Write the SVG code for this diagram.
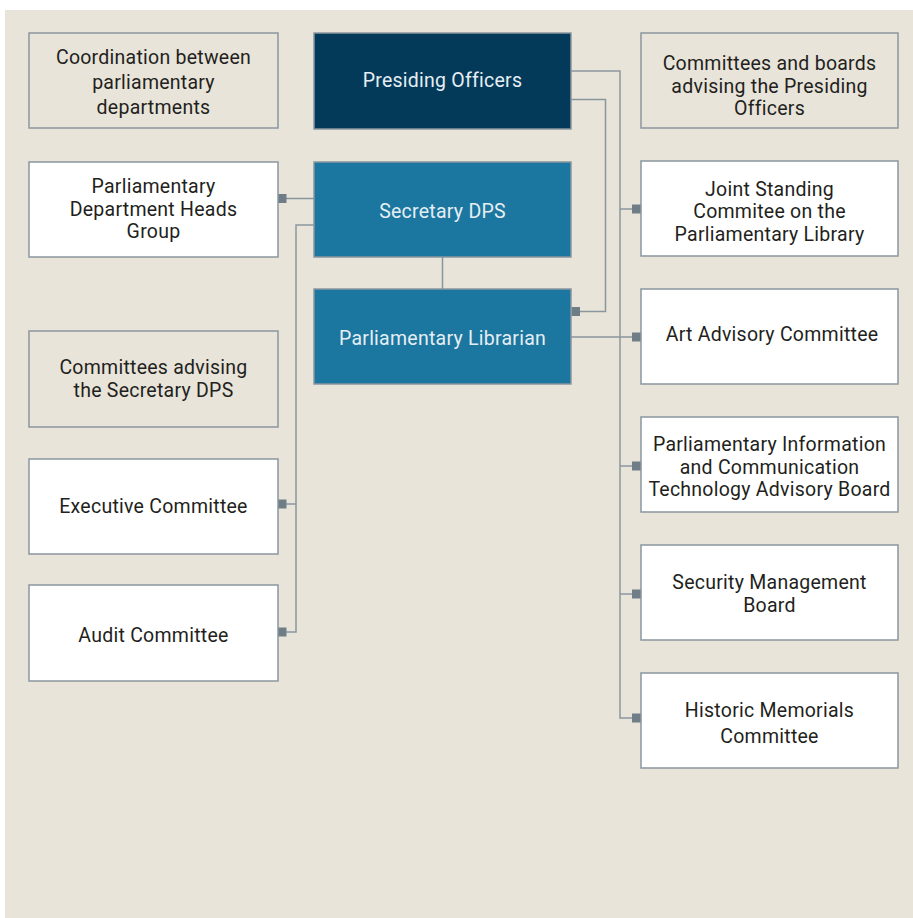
<svg xmlns="http://www.w3.org/2000/svg" width="913" height="918" viewBox="0 0 913 918">
<style>
.bx{stroke:#8a969e;stroke-width:1.5}
.beige{fill:#e8e4d9}
.white{fill:#ffffff}
.dark{fill:#033a5a}
.blue{fill:#1b76a0}
.t{font-family:Roboto,"Liberation Sans",sans-serif;font-size:19.5px;letter-spacing:0.25px;fill:#231f20;text-anchor:middle}
.tw{font-family:Roboto,"Liberation Sans",sans-serif;font-size:19.5px;letter-spacing:0.25px;fill:#e6eef3;text-anchor:middle}
.ln{fill:none;stroke:#8a969e;stroke-width:1.5}
.sq{fill:#6f7d87}
</style>
<rect x="0" y="0" width="913" height="918" fill="#ffffff"/>
<rect x="5" y="10" width="908" height="908" fill="#e8e4d9"/>
<g id="connectors">
<path class="ln" d="M571 71 H620 V718 H632"/>
<path class="ln" d="M620 209 H632 M620 466 H632 M620 594 H632"/>
<path class="ln" d="M571 337 H632"/>
<path class="ln" d="M571 99.5 H605.5 V311.5 H580"/>
<path class="ln" d="M442.5 257 V289"/>
<path class="ln" d="M314 198.5 H286"/>
<path class="ln" d="M314 225 H296 V632 H286 M296 504 H286"/>
<rect class="sq" x="632" y="204.5" width="9" height="9"/>
<rect class="sq" x="632" y="332.5" width="9" height="9"/>
<rect class="sq" x="632" y="461.5" width="9" height="9"/>
<rect class="sq" x="632" y="589.5" width="9" height="9"/>
<rect class="sq" x="632" y="713.5" width="9" height="9"/>
<rect class="sq" x="571.5" y="307" width="8.5" height="9"/>
<rect class="sq" x="278" y="194" width="8.5" height="9"/>
<rect class="sq" x="278" y="499.5" width="8.5" height="9"/>
<rect class="sq" x="278" y="627.5" width="8.5" height="9"/>
</g>
<g id="coordination">
<rect class="bx beige" x="29" y="33" width="249" height="95"/>
<text class="t" x="153.5" y="64">Coordination between</text>
<text class="t" x="153.5" y="89">parliamentary</text>
<text class="t" x="153.5" y="114">departments</text>
</g>
<g id="heads-group">
<rect class="bx white" x="29" y="162" width="249" height="95"/>
<text class="t" x="153.5" y="192.5">Parliamentary</text>
<text class="t" x="153.5" y="215.5">Department Heads</text>
<text class="t" x="153.5" y="238">Group</text>
</g>
<g id="committees-secretary">
<rect class="bx beige" x="29" y="331" width="249" height="96"/>
<text class="t" x="153.5" y="373.5">Committees advising</text>
<text class="t" x="153.5" y="396.5">the Secretary DPS</text>
</g>
<g id="executive">
<rect class="bx white" x="29" y="459" width="249" height="95"/>
<text class="t" x="153.5" y="512.5">Executive Committee</text>
</g>
<g id="audit">
<rect class="bx white" x="29" y="585" width="249" height="96"/>
<text class="t" x="153.5" y="641.5">Audit Committee</text>
</g>
<g id="presiding">
<rect class="bx dark" x="314" y="33" width="257" height="96"/>
<text class="tw" x="442.5" y="86.5">Presiding Officers</text>
</g>
<g id="secretary">
<rect class="bx blue" x="314" y="162" width="257" height="95"/>
<text class="tw" x="442.5" y="217.5">Secretary DPS</text>
</g>
<g id="librarian">
<rect class="bx blue" x="314" y="289" width="257" height="95"/>
<text class="tw" x="442.5" y="344.5">Parliamentary Librarian</text>
</g>
<g id="committees-presiding">
<rect class="bx beige" x="641" y="33" width="257" height="95"/>
<text class="t" x="769.5" y="69.5">Committees and boards</text>
<text class="t" x="769.5" y="92.5">advising the Presiding</text>
<text class="t" x="769.5" y="114.5">Officers</text>
</g>
<g id="joint-standing">
<rect class="bx white" x="641" y="161" width="257" height="95"/>
<text class="t" x="769.5" y="195.5">Joint Standing</text>
<text class="t" x="769.5" y="217.5">Commitee on the</text>
<text class="t" x="769.5" y="240.5">Parliamentary Library</text>
</g>
<g id="art">
<rect class="bx white" x="641" y="289" width="257" height="95"/>
<text class="t" x="772" y="340.5">Art Advisory Committee</text>
</g>
<g id="pict">
<rect class="bx white" x="641" y="417" width="257" height="95"/>
<text class="t" x="769.5" y="450.5">Parliamentary Information</text>
<text class="t" x="769.5" y="473.5">and Communication</text>
<text class="t" x="769.5" y="495.5">Technology Advisory Board</text>
</g>
<g id="security">
<rect class="bx white" x="641" y="545" width="257" height="95"/>
<text class="t" x="769.5" y="588.5">Security Management</text>
<text class="t" x="769.5" y="611.5">Board</text>
</g>
<g id="historic">
<rect class="bx white" x="641" y="673" width="257" height="95"/>
<text class="t" x="769.5" y="716.5">Historic Memorials</text>
<text class="t" x="769.5" y="742.5">Committee</text>
</g>
</svg>
